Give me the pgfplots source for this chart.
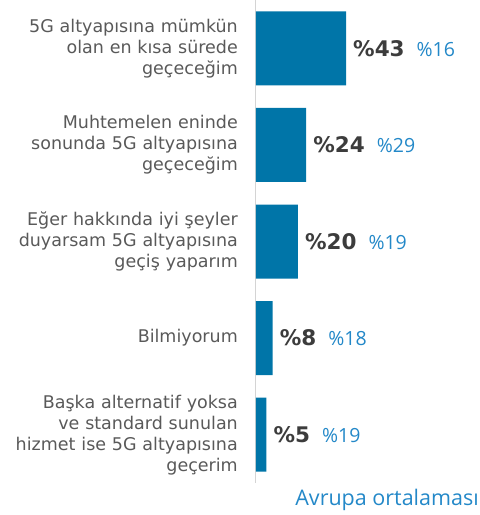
\documentclass[border=0pt]{standalone}
\usepackage{pgfplots}
\pgfplotsset{compat=1.18}
\usepackage{pgfplotstable}
\usepackage{fontspec}
\setmainfont{DejaVu Sans}
\newfontfamily\opensans{Open Sans}
\definecolor{barblue}{RGB}{0,117,168}
\definecolor{lblue}{RGB}{35,136,200}
\definecolor{darktxt}{RGB}{60,60,60}
\definecolor{graytxt}{RGB}{89,89,89}
\definecolor{axgray}{RGB}{212,212,212}

\pgfplotstableread{
idx val eu
0 43 16
1 24 29
2 20 19
3 8 18
4 5 19
}\datatable

\begin{document}
\begin{tikzpicture}
\useasboundingbox (-256pt,-32pt) rectangle (224pt,483pt);
\begin{axis}[
  scale only axis, width=224pt, height=483pt,
  xbar, bar width=74pt,
  xmin=0, xmax=107,
  ymin=-0.5, ymax=4.5, y dir=reverse,
  axis x line=none,
  axis y line*=left,
  y axis line style={draw=axgray, line width=1pt},
  ytick={0,1,2,3,4},
  yticklabels={{5G altyapısına mümkün\\olan en kısa sürede\\geçeceğim},
               {Muhtemelen eninde\\sonunda 5G altyapısına\\geçeceğim},
               {Eğer hakkında iyi şeyler\\duyarsam 5G altyapısına\\geçiş yaparım},
               {Bilmiyorum},
               {Başka alternatif yoksa\\ve standard sunulan\\hizmet ise 5G altyapısına\\geçerim}},
  major tick length=0pt,
  yticklabel style={font={\fontsize{17.5}{21}\selectfont}, text=graytxt, text width=235pt, align=right, inner sep=0pt, xshift=-18pt},
  clip=false,
]
\addplot[fill=barblue, draw=none, point meta=explicit symbolic,
  nodes near coords={\textcolor{darktxt}{\fontsize{21.5}{24}\selectfont\bfseries\%\pgfplotspointmeta}\hspace{12pt}\textcolor{lblue}{\opensans\fontsize{19.5}{22}\selectfont\%\pgfmathprintnumber[assume math mode=true,fixed,precision=0]{\eu}}},
  nodes near coords align={horizontal},
  every node near coord/.append style={anchor=west, inner sep=0pt, xshift=7pt},
  visualization depends on=\thisrow{eu}\as\eu,
] table[x=val, y=idx, meta=val]{\datatable};
\node[anchor=base east, inner sep=0pt, text=lblue, font={\opensans\fontsize{21.5}{26}\selectfont}, yshift=-22pt, xshift=-1pt] at (rel axis cs:1,0) {Avrupa ortalaması};
\end{axis}
\end{tikzpicture}
\end{document}
